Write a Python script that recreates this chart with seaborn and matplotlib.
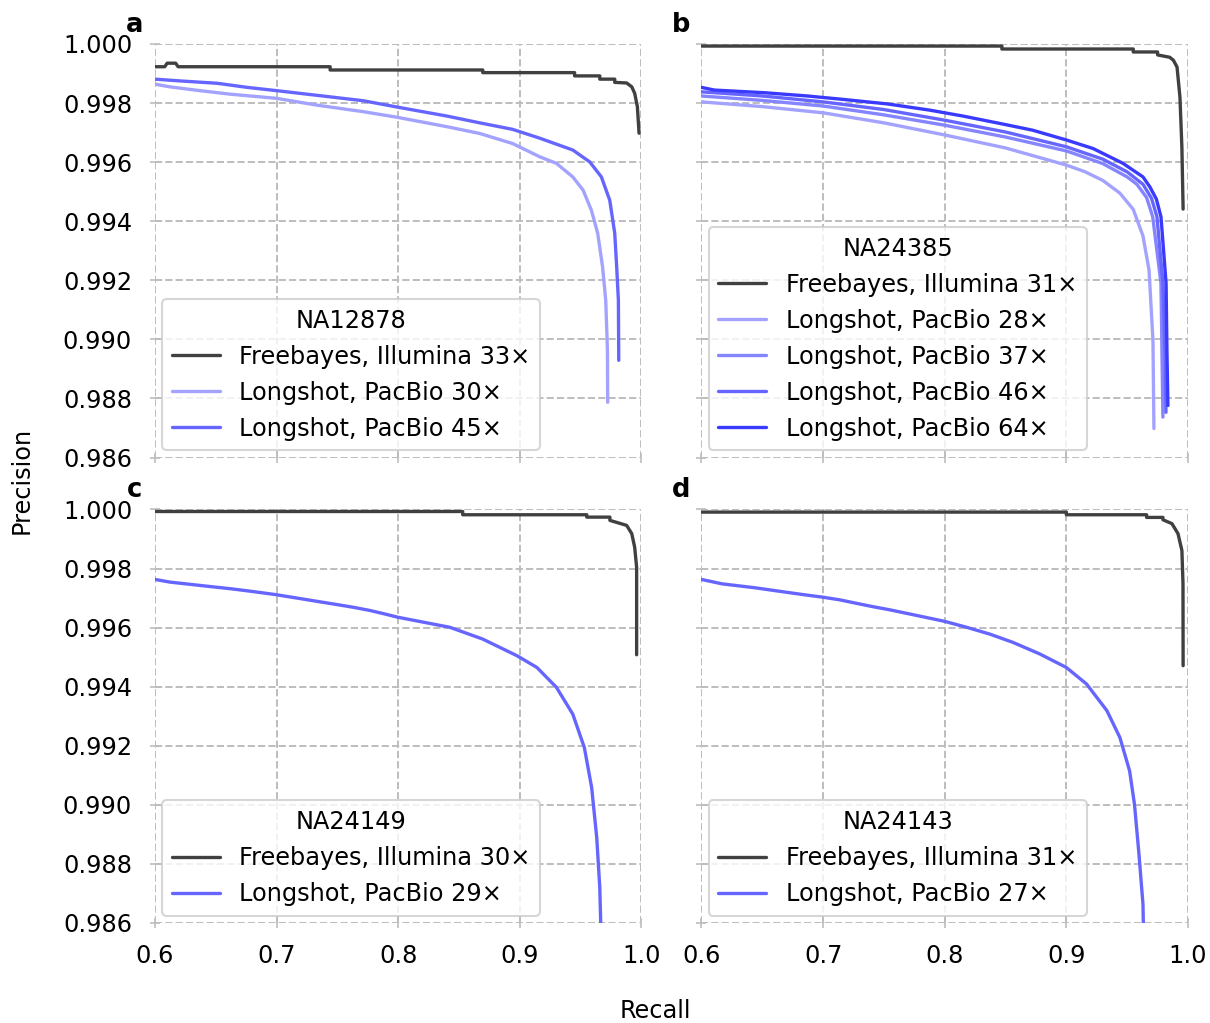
import numpy as np
import pandas as pd
import matplotlib
matplotlib.use("Agg")
import matplotlib.pyplot as plt
import seaborn as sns

# ---------------- data ----------------
samples = ["NA12878", "NA24385", "NA24149", "NA24143"]
panel_letters = ["a", "b", "c", "d"]
x_ticks = [0.6, 0.7, 0.8, 0.9, 1.0]
y_ticks = [0.986, 0.988, 0.990, 0.992, 0.994, 0.996, 0.998, 1.000]

# Panel a (NA12878)
a_fb_label = "Freebayes, Illumina 33×"
a_fb_recall = [0.600, 0.608, 0.610, 0.617, 0.619, 0.744, 0.744, 0.8695, 0.8695, 0.945, 0.945,
               0.9657, 0.9657, 0.978, 0.978, 0.9878, 0.992, 0.9944, 0.9966, 0.998]
a_fb_prec = [0.99923, 0.99923, 0.99935, 0.99935, 0.99923, 0.99923, 0.99912, 0.99912, 0.99903, 0.99903, 0.99892,
             0.99892, 0.99881, 0.99881, 0.99870, 0.99868, 0.99855, 0.99833, 0.99788, 0.99698]
a_ls30_label = "Longshot, PacBio 30×"
a_ls30_recall = [0.600, 0.612, 0.637, 0.662, 0.700, 0.733, 0.771, 0.799, 0.840, 0.867, 0.894, 0.9164,
                 0.930, 0.9435, 0.952, 0.9588, 0.964, 0.968, 0.9706, 0.972, 0.9722]
a_ls30_prec = [0.99864, 0.99855, 0.99842, 0.99830, 0.99816, 0.99793, 0.99771, 0.99752, 0.99720, 0.99697,
               0.99663, 0.99618, 0.99596, 0.99550, 0.99505, 0.99437, 0.99359, 0.99245, 0.99132, 0.98963,
               0.98787]
a_ls45_label = "Longshot, PacBio 45×"
a_ls45_recall = [0.600, 0.6205, 0.651, 0.676, 0.700, 0.7356, 0.771, 0.801, 0.840, 0.867, 0.894, 0.9164,
                 0.9435, 0.9574, 0.967, 0.9739, 0.978, 0.9796, 0.981, 0.9813]
a_ls45_prec = [0.99881, 0.99875, 0.99867, 0.99853, 0.99842, 0.99825, 0.99808, 0.99785, 0.99756, 0.99733,
               0.99711, 0.99681, 0.99641, 0.99601, 0.99550, 0.99471, 0.99359, 0.99245, 0.99132, 0.98929]

# Panel b (NA24385)
b_fb_label = "Freebayes, Illumina 31×"
b_fb_recall = [0.600, 0.847, 0.847, 0.955, 0.955, 0.975, 0.975, 0.985, 0.988, 0.991, 0.9934, 0.995, 0.996]
b_fb_prec = [0.99993, 0.99993, 0.99983, 0.99983, 0.99973, 0.99973, 0.99963, 0.99955, 0.99945, 0.99922,
             0.99820, 0.99650, 0.99441]
b_ls28_label = "Longshot, PacBio 28×"
b_ls28_recall = [0.600, 0.650, 0.700, 0.750, 0.800, 0.850, 0.900, 0.915, 0.930, 0.944, 0.955, 0.963,
                 0.968, 0.9712, 0.972]
b_ls28_prec = [0.99804, 0.99788, 0.99767, 0.99733, 0.99692, 0.99648, 0.99590, 0.99568, 0.99538, 0.99495,
               0.99440, 0.99350, 0.99234, 0.98997, 0.98698]
b_ls37_label = "Longshot, PacBio 37×"
b_ls37_recall = [0.600, 0.650, 0.700, 0.750, 0.800, 0.850, 0.900, 0.930, 0.950, 0.958, 0.966, 0.971,
                 0.9778, 0.9786, 0.9794]
b_ls37_prec = [0.99824, 0.99809, 0.99790, 0.99760, 0.99725, 0.99685, 0.99638, 0.99595, 0.99550, 0.99525,
               0.99480, 0.99415, 0.99190, 0.98963, 0.98737]
b_ls46_label = "Longshot, PacBio 46×"
b_ls46_recall = [0.600, 0.650, 0.700, 0.750, 0.800, 0.850, 0.900, 0.930, 0.950, 0.963, 0.970, 0.9745,
                 0.9794, 0.981, 0.9819]
b_ls46_prec = [0.99838, 0.99824, 0.99804, 0.99778, 0.99742, 0.99702, 0.99652, 0.99610, 0.99567, 0.99525,
               0.99478, 0.99415, 0.99190, 0.98963, 0.98753]
b_ls64_label = "Longshot, PacBio 64×"
b_ls64_recall = [0.600, 0.6107, 0.652, 0.687, 0.715, 0.753, 0.7877, 0.815, 0.8477, 0.8724, 0.900, 0.922,
                 0.9465, 0.963, 0.9687, 0.974, 0.9778, 0.982, 0.9827, 0.9835]
b_ls64_prec = [0.99853, 0.99844, 0.99835, 0.99824, 0.99813, 0.99797, 0.99776, 0.99756, 0.99729, 0.99708,
               0.99675, 0.99646, 0.99596, 0.99550, 0.99516, 0.99475, 0.99415, 0.99190, 0.98963, 0.98776]

# Panel c (NA24149)
c_fb_label = "Freebayes, Illumina 30×"
c_fb_recall = [0.600, 0.853, 0.853, 0.955, 0.955, 0.974, 0.974, 0.9805, 0.9878, 0.992, 0.9944, 0.996, 0.996]
c_fb_prec = [0.99993, 0.99993, 0.99982, 0.99982, 0.99974, 0.99974, 0.99963, 0.99955, 0.99946, 0.99918,
             0.99872, 0.99804, 0.99508]
c_ls_label = "Longshot, PacBio 29×"
c_ls_recall = [0.600, 0.6123, 0.6386, 0.6633, 0.6806, 0.6986, 0.7166, 0.733, 0.748, 0.7627, 0.7767, 0.789,
               0.7997, 0.8424, 0.8695, 0.8975, 0.914, 0.930, 0.9435, 0.953, 0.959, 0.9632, 0.9657, 0.9668]
c_ls_prec = [0.99763, 0.99754, 0.99742, 0.99731, 0.99722, 0.99712, 0.99700, 0.99689, 0.99679, 0.99669,
             0.99658, 0.99646, 0.99635, 0.99601, 0.99561, 0.99505, 0.99465, 0.99398, 0.99307, 0.99194,
             0.99059, 0.98889, 0.98720, 0.98550]

# Panel d (NA24143)
d_fb_label = "Freebayes, Illumina 31×"
d_fb_recall = [0.600, 0.900, 0.900, 0.966, 0.966, 0.9794, 0.9794, 0.9868, 0.9918, 0.995, 0.9959, 0.996]
d_fb_prec = [0.99991, 0.99991, 0.99982, 0.99982, 0.99973, 0.99973, 0.99965, 0.99952, 0.99918, 0.99861,
             0.99749, 0.99471]
d_ls_label = "Longshot, PacBio 27×"
d_ls_recall = [0.600, 0.617, 0.6436, 0.664, 0.683, 0.6996, 0.7136, 0.7276, 0.7407, 0.755, 0.777, 0.800,
               0.818, 0.837, 0.856, 0.878, 0.900, 0.9166, 0.9333, 0.944, 0.952, 0.956, 0.9597, 0.963, 0.9635]
d_ls_prec = [0.99763, 0.99748, 0.99735, 0.99723, 0.99712, 0.99703, 0.99694, 0.99682, 0.99671, 0.99660,
             0.99641, 0.99621, 0.99601, 0.99578, 0.99550, 0.99511, 0.99465, 0.99409, 0.99319, 0.99228,
             0.99115, 0.99002, 0.98833, 0.98663, 0.98550]

# colours
fb_color = "#404040"
ls_colors = {"28": "#a3a3ff", "30": "#a3a3ff", "37": "#8585ff", "46": "#6666ff",
             "45": "#6666ff", "29": "#6666ff", "27": "#6666ff", "64": "#3a3aff"}

panels = [
    [(a_fb_label, a_fb_recall, a_fb_prec, fb_color),
     (a_ls30_label, a_ls30_recall, a_ls30_prec, ls_colors["30"]),
     (a_ls45_label, a_ls45_recall, a_ls45_prec, ls_colors["45"])],
    [(b_fb_label, b_fb_recall, b_fb_prec, fb_color),
     (b_ls28_label, b_ls28_recall, b_ls28_prec, ls_colors["28"]),
     (b_ls37_label, b_ls37_recall, b_ls37_prec, ls_colors["37"]),
     (b_ls46_label, b_ls46_recall, b_ls46_prec, ls_colors["46"]),
     (b_ls64_label, b_ls64_recall, b_ls64_prec, ls_colors["64"])],
    [(c_fb_label, c_fb_recall, c_fb_prec, fb_color),
     (c_ls_label, c_ls_recall, c_ls_prec, ls_colors["29"])],
    [(d_fb_label, d_fb_recall, d_fb_prec, fb_color),
     (d_ls_label, d_ls_recall, d_ls_prec, ls_colors["27"])],
]

# ---------------- style ----------------
FS = 17.3
sns.set_theme(context="talk", style="whitegrid", rc={
    "grid.linestyle": "--",
    "grid.color": "#bdbdbd",
    "grid.linewidth": 1.4,
    "legend.title_fontsize": FS,
    "legend.fontsize": FS,
    "text.color": "black",
    "axes.labelcolor": "black",
})
plt.rcParams["font.family"] = ["DejaVu Sans"]

fig, axes = plt.subplots(2, 2, figsize=(12.10, 10.23), dpi=100, sharex=True, sharey=True)
fig.subplots_adjust(left=0.1281, right=0.9818, top=0.957, bottom=0.0978,
                    wspace=0.1233, hspace=0.1256)

for idx, ax in enumerate(axes.flat):
    for label, rec, prec, col in panels[idx]:
        df = pd.DataFrame({"Recall": rec, "Precision": prec})
        sns.lineplot(data=df, x="Recall", y="Precision", ax=ax, sort=False, estimator=None,
                     color=col, linewidth=2.4, label=label)
    ax.set_xlim(0.6, 1.0)
    ax.set_ylim(0.986, 1.000)
    ax.set_xticks(x_ticks)
    ax.set_yticks(y_ticks)
    ax.set_xticklabels([f"{v:.1f}" for v in x_ticks])
    ax.set_yticklabels([f"{v:.3f}" for v in y_ticks])
    ax.set_xlabel("")
    ax.set_ylabel("")
    for s in ax.spines.values():
        s.set_visible(False)
    ax.tick_params(axis="both", which="major", direction="inout", length=7, width=1.2,
                   color="#bdbdbd", labelsize=FS, labelcolor="black")
    ax.tick_params(axis="y", pad=13)
    ax.tick_params(axis="x", pad=12)
    ax.tick_params(left=True, bottom=True)
    leg = ax.legend(title=samples[idx], loc="lower left", borderaxespad=0.3,
                    handlelength=2.0, labelspacing=0.5, frameon=True, fancybox=True)
    leg.get_frame().set_edgecolor("#cccccc")
    leg.get_frame().set_alpha(0.8)
    ax.text(-0.042, 1.03, panel_letters[idx], transform=ax.transAxes, ha="center",
            va="baseline", fontsize=18.5, fontweight="bold", color="black")

fig.text(22 / 1210, 1 - 480 / 1023, "Precision", rotation=90, ha="center", va="center",
         fontsize=FS, color="black")
fig.text(655 / 1210, 1 - 1011 / 1023, "Recall", ha="center", va="center", fontsize=FS, color="black")

fig.savefig("out.png", dpi=100)
